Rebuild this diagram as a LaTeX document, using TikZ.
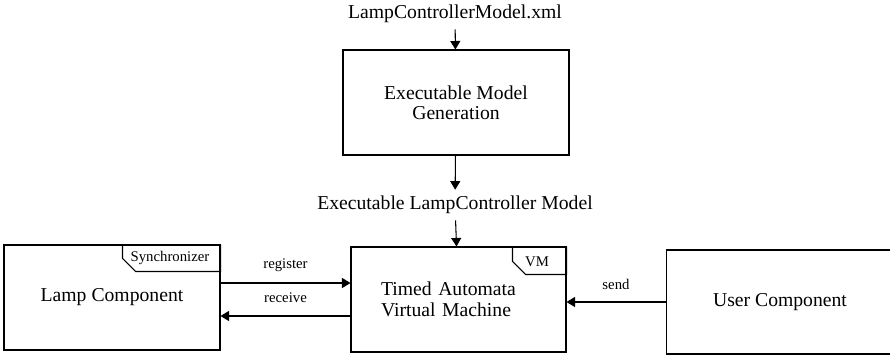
\documentclass[tikz,border=0pt]{standalone}
\usepackage{fontspec}
\setmainfont{Liberation Serif}
\usetikzlibrary{arrows.meta}

\begin{document}
\begin{tikzpicture}[x=0.02cm, y=-0.02cm, line width=0.6pt,
    box/.style={draw, minimum height=2.1cm, align=center,
      font=\fontsize{11.2}{11.6}\selectfont},
    lbl/.style={font=\fontsize{11.2}{11.6}\selectfont},
    tag/.style={font=\fontsize{8.4}{9}\selectfont, inner sep=0pt},
    flow/.style={-{Triangle[length=1.7mm,width=2mm]}}]
  \useasboundingbox (0,0) rectangle (890,356);
  \node[lbl] (xml) at (455,14) {LampControllerModel.xml};
  \node[box, minimum width=4.52cm] (gen) at (456,102.5) {Executable Model\\Generation};
  \node[lbl] (exe) at (455,205) {Executable LampController Model};
  \node[box, minimum width=4.3cm, text width=3.1cm, align=left] (vm) at (458.5,299.5) {Timed Automata\\Virtual Machine};
  \node[box, minimum width=4.32cm] (lamp) at (112,297.5) {Lamp Component};
  \node[box, minimum width=4.56cm, minimum height=2.08cm] (user) at (780,302) {User Component};
  % tags in the corners
  \draw (lamp.north east) -- ++(0,27) -- ++(-85,0) -- ++(-13,-13) -- ++(0,-14);
  \node[tag] (sync) at (170,258) {Synchronizer};
  \draw (vm.north east) -- ++(0,28) -- ++(-41,0) -- ++(-13,-13) -- ++(0,-15);
  \node[tag] (vmtag) at (537,262) {VM};
  % flow
  \draw[flow] (xml) -- (gen);
  \draw[flow] (gen) -- (exe);
  \draw[flow] (exe) -- (vm);
  \coordinate (reg) at ([yshift=3.3mm]vm.west);
  \coordinate (rec) at ([yshift=-3.3mm]vm.west);
  \draw[flow] (lamp.east |- reg) -- node[tag, above=2.2mm] {register} (reg);
  \draw[flow] (rec) -- node[tag, above=2.6mm] {receive} (lamp.east |- rec);
  \draw[flow] (user.west) -- node[tag, above=2.4mm] {send} (vm.east |- user.west);
\end{tikzpicture}
\end{document}
